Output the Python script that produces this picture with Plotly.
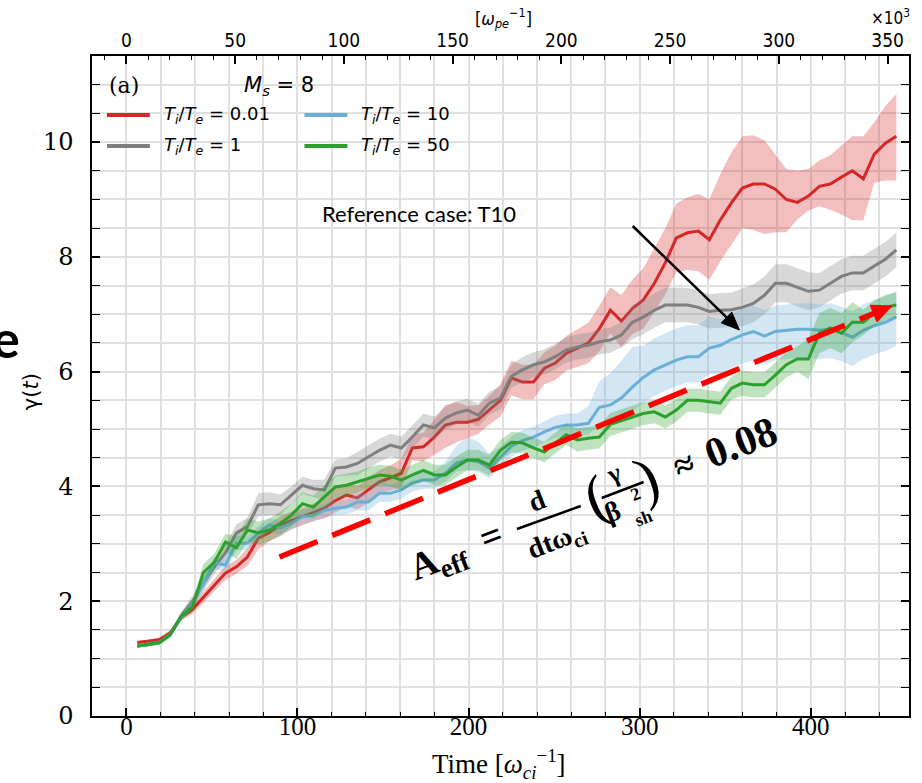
import plotly.graph_objects as go

# ---------------- data ----------------
t_ci = [6.4, 12.9, 19.3, 25.7, 32.1, 38.6, 45.0, 51.4, 57.9, 64.3,
        70.7, 77.1, 83.6, 90.0, 96.4, 102.9, 109.3, 115.7, 122.1, 128.6,
        135.0, 141.4, 147.9, 154.3, 160.7, 167.1, 173.6, 180.0, 186.4, 192.9,
        199.3, 205.7, 212.1, 218.6, 225.0, 231.4, 237.9, 244.3, 250.7, 257.1,
        263.6, 270.0, 276.4, 282.9, 289.3, 295.7, 302.1, 308.6, 315.0, 321.4,
        327.9, 334.3, 340.7, 347.1, 353.6, 360.0, 366.4, 372.9, 379.3, 385.7,
        392.1, 398.6, 405.0, 411.4, 417.9, 424.3, 430.7, 437.1, 443.6, 450.0]

red_mean = [1.28, 1.30, 1.33, 1.45, 1.72, 1.86, 2.07, 2.28, 2.49, 2.60,
            2.77, 3.10, 3.20, 3.33, 3.41, 3.47, 3.55, 3.62, 3.75, 3.85,
            3.80, 3.94, 4.08, 4.15, 4.23, 4.67, 4.69, 4.86, 5.07, 5.12,
            5.12, 5.17, 5.33, 5.50, 5.89, 5.82, 5.82, 6.06, 6.15, 6.32,
            6.41, 6.50, 6.75, 7.07, 6.88, 7.10, 7.25, 7.54, 7.90, 8.33,
            8.42, 8.45, 8.30, 8.64, 8.94, 9.20, 9.27, 9.27, 9.18, 9.00,
            8.95, 9.06, 9.23, 9.27, 9.39, 9.50, 9.36, 9.79, 9.98, 10.10]
red_dn = [0.03, 0.03, 0.04, 0.05, 0.06, 0.08, 0.10, 0.10, 0.12, 0.12,
          0.15, 0.20, 0.15, 0.20, 0.15, 0.15, 0.15, 0.18, 0.20, 0.20,
          0.20, 0.22, 0.20, 0.22, 0.25, 0.22, 0.25, 0.30, 0.40, 0.35,
          0.28, 0.25, 0.25, 0.28, 0.30, 0.30, 0.30, 0.28, 0.30, 0.30,
          0.33, 0.35, 0.40, 0.40, 0.45, 0.45, 0.50, 0.50, 0.55, 0.60,
          0.65, 0.70, 0.70, 0.72, 0.72, 0.70, 0.80, 0.87, 0.75, 0.57,
          0.30, 0.25, 0.35, 0.45, 0.65, 0.86, 0.72, 0.50, 0.65, 0.77]
red_up = [0.03, 0.03, 0.04, 0.05, 0.06, 0.08, 0.10, 0.10, 0.12, 0.12,
          0.15, 0.15, 0.15, 0.15, 0.15, 0.15, 0.15, 0.18, 0.20, 0.20,
          0.20, 0.22, 0.20, 0.22, 0.25, 0.22, 0.25, 0.30, 0.35, 0.35,
          0.28, 0.25, 0.25, 0.28, 0.30, 0.30, 0.30, 0.28, 0.30, 0.30,
          0.33, 0.35, 0.40, 0.40, 0.45, 0.50, 0.55, 0.60, 0.60, 0.60,
          0.62, 0.65, 0.70, 0.80, 0.88, 0.90, 0.85, 0.76, 0.60, 0.53,
          0.55, 0.47, 0.45, 0.50, 0.55, 0.60, 0.74, 0.55, 0.65, 0.74]

gray_mean = [1.22, 1.24, 1.28, 1.42, 1.75, 2.00, 2.30, 2.60, 2.84, 3.19,
             3.30, 3.68, 3.70, 3.68, 3.85, 4.02, 3.96, 3.94, 4.32, 4.34,
             4.40, 4.51, 4.63, 4.72, 4.67, 4.86, 5.07, 5.02, 5.19, 5.28,
             5.33, 5.24, 5.45, 5.54, 5.92, 6.03, 6.12, 6.17, 6.26, 6.38,
             6.43, 6.46, 6.52, 6.55, 6.64, 6.86, 6.95, 7.07, 7.16, 7.16,
             7.16, 7.12, 7.05, 7.07, 7.08, 7.12, 7.19, 7.33, 7.54, 7.54,
             7.47, 7.40, 7.42, 7.54, 7.66, 7.72, 7.72, 7.84, 7.96, 8.12]
gray_err = [0.03, 0.03, 0.04, 0.05, 0.06, 0.10, 0.12, 0.12, 0.15, 0.15,
            0.15, 0.20, 0.20, 0.18, 0.15, 0.15, 0.15, 0.18, 0.15, 0.15,
            0.20, 0.20, 0.20, 0.20, 0.20, 0.20, 0.20, 0.20, 0.20, 0.20,
            0.20, 0.20, 0.20, 0.20, 0.20, 0.22, 0.22, 0.22, 0.22, 0.22,
            0.22, 0.22, 0.22, 0.22, 0.22, 0.30, 0.30, 0.30, 0.30, 0.30,
            0.30, 0.30, 0.30, 0.30, 0.30, 0.33, 0.33, 0.33, 0.33, 0.33,
            0.33, 0.33, 0.30, 0.30, 0.30, 0.30, 0.30, 0.30, 0.30, 0.30]

blue_mean = [1.22, 1.25, 1.28, 1.42, 1.72, 1.95, 2.30, 2.67, 2.63, 3.01,
             3.01, 3.19, 3.33, 3.28, 3.36, 3.47, 3.50, 3.58, 3.62, 3.64,
             3.73, 3.73, 3.88, 3.88, 3.94, 4.06, 4.11, 4.11, 4.23, 4.41,
             4.46, 4.43, 4.32, 4.51, 4.70, 4.80, 4.86, 4.95, 5.03, 5.07,
             5.07, 5.10, 5.38, 5.42, 5.54, 5.73, 5.90, 6.03, 6.12, 6.20,
             6.26, 6.26, 6.41, 6.46, 6.56, 6.64, 6.70, 6.62, 6.70, 6.72,
             6.74, 6.74, 6.72, 6.74, 6.68, 6.60, 6.72, 6.80, 6.86, 6.95]
blue_dn = [0.03, 0.03, 0.04, 0.05, 0.06, 0.08, 0.10, 0.10, 0.12, 0.12,
           0.12, 0.12, 0.12, 0.12, 0.12, 0.12, 0.12, 0.12, 0.12, 0.12,
           0.15, 0.15, 0.15, 0.15, 0.15, 0.15, 0.15, 0.15, 0.15, 0.15,
           0.18, 0.18, 0.18, 0.18, 0.18, 0.18, 0.18, 0.18, 0.18, 0.18,
           0.18, 0.20, 0.30, 0.35, 0.40, 0.42, 0.45, 0.45, 0.45, 0.45,
           0.45, 0.45, 0.45, 0.50, 0.50, 0.50, 0.50, 0.50, 0.50, 0.50,
           0.50, 0.50, 0.50, 0.50, 0.50, 0.50, 0.50, 0.50, 0.50, 0.50]
blue_up = [0.03, 0.03, 0.04, 0.05, 0.06, 0.08, 0.10, 0.10, 0.12, 0.12,
           0.12, 0.12, 0.12, 0.12, 0.12, 0.12, 0.12, 0.12, 0.12, 0.12,
           0.15, 0.15, 0.25, 0.15, 0.15, 0.15, 0.15, 0.15, 0.20, 0.30,
           0.40, 0.35, 0.25, 0.18, 0.18, 0.18, 0.18, 0.18, 0.20, 0.20,
           0.20, 0.30, 0.45, 0.55, 0.65, 0.70, 0.55, 0.55, 0.55, 0.55,
           0.55, 0.55, 0.55, 0.45, 0.45, 0.45, 0.45, 0.45, 0.45, 0.45,
           0.45, 0.45, 0.45, 0.45, 0.45, 0.45, 0.45, 0.45, 0.45, 0.45]

green_mean = [1.22, 1.25, 1.28, 1.42, 1.74, 1.90, 2.50, 2.68, 3.03, 2.93,
              3.24, 3.19, 3.24, 3.36, 3.50, 3.70, 3.64, 3.82, 3.99, 4.02,
              4.08, 4.15, 4.20, 4.18, 4.11, 4.20, 4.28, 4.20, 4.20, 4.34,
              4.46, 4.46, 4.37, 4.63, 4.77, 4.76, 4.67, 4.60, 4.76, 4.90,
              4.81, 4.84, 4.86, 5.08, 5.14, 5.20, 5.27, 5.30, 5.21, 5.33,
              5.50, 5.50, 5.47, 5.45, 5.71, 5.80, 5.77, 5.77, 5.94, 6.12,
              6.22, 6.22, 6.67, 6.76, 6.67, 6.86, 6.86, 7.02, 7.12, 7.16]
green_err = [0.03, 0.03, 0.04, 0.05, 0.06, 0.10, 0.15, 0.15, 0.15, 0.20,
             0.20, 0.20, 0.20, 0.20, 0.20, 0.20, 0.20, 0.20, 0.20, 0.20,
             0.18, 0.18, 0.18, 0.18, 0.18, 0.18, 0.18, 0.18, 0.18, 0.18,
             0.18, 0.18, 0.18, 0.18, 0.18, 0.18, 0.18, 0.18, 0.18, 0.18,
             0.20, 0.20, 0.20, 0.20, 0.20, 0.20, 0.20, 0.20, 0.20, 0.20,
             0.20, 0.20, 0.20, 0.20, 0.20, 0.22, 0.22, 0.22, 0.22, 0.22,
             0.22, 0.35, 0.35, 0.35, 0.35, 0.35, 0.22, 0.22, 0.22, 0.22]

legend_labels = ["<i>T</i><sub><i>i</i></sub>/<i>T</i><sub><i>e</i></sub> = 0.01",
                 "<i>T</i><sub><i>i</i></sub>/<i>T</i><sub><i>e</i></sub> = 1",
                 "<i>T</i><sub><i>i</i></sub>/<i>T</i><sub><i>e</i></sub> = 10",
                 "<i>T</i><sub><i>i</i></sub>/<i>T</i><sub><i>e</i></sub> = 50"]
line_colors = ["#d62728", "#7f7f7f", "#6baed6", "#2ca02c"]
fill_colors = ["rgba(214,39,40,0.3)", "rgba(127,127,127,0.3)",
               "rgba(107,174,214,0.3)", "rgba(44,160,44,0.3)"]

bottom_ticks = [0, 100, 200, 300, 400]
top_ticks = [0, 50, 100, 150, 200, 250, 300, 350]
y_ticks = [0, 2, 4, 6, 8, 10]
wpe_per_wci = 0.7867  # top axis (x10^3 / omega_pe) per bottom unit

# ---------------- geometry ----------------
W, H = 922, 783
L, R, T, B = 92, 11, 56, 67
PW, PH = W - L - R, H - T - B
X0, X1 = -20.1, 457.4
Y0, Y1 = 0.0, 11.5
GRID = "#e0e0e0"


def xp(px):
    return (px - L) / PW


def yp(py):
    return (H - B - py) / PH


fig = go.Figure()

series = [
    (red_mean, red_dn, red_up, 0),
    (gray_mean, gray_err, gray_err, 1),
    (blue_mean, blue_dn, blue_up, 2),
    (green_mean, green_err, green_err, 3),
]
for mean, dn, up, i in series:
    lo = [m - d for m, d in zip(mean, dn)]
    hi = [m + u for m, u in zip(mean, up)]
    fig.add_trace(go.Scatter(x=t_ci + t_ci[::-1], y=hi + lo[::-1], fill="toself",
                             fillcolor=fill_colors[i], line=dict(width=0),
                             mode="lines", hoverinfo="skip", showlegend=False))
    fig.add_trace(go.Scatter(x=t_ci, y=mean, mode="lines",
                             line=dict(color=line_colors[i], width=3),
                             name=legend_labels[i], showlegend=False))

# dummy trace to show the top axis
fig.add_trace(go.Scatter(x=[X0 * wpe_per_wci, X1 * wpe_per_wci], y=[None, None],
                         xaxis="x2", mode="lines", showlegend=False, hoverinfo="skip"))

axis_common = dict(ticks="inside", tickcolor="black", tickwidth=1.5, ticklen=8,
                   showline=True, linecolor="black", linewidth=1.5, zeroline=False)

fig.update_layout(
    width=W, height=H, margin=dict(l=L, r=R, t=T, b=B),
    plot_bgcolor="white", paper_bgcolor="white", showlegend=False,
    xaxis=dict(range=[X0, X1], tickvals=bottom_ticks, mirror=True,
               showgrid=True, gridcolor=GRID, gridwidth=1.5,
               minor=dict(dtick=20, tick0=0, ticks="inside", ticklen=4, tickwidth=1,
                          tickcolor="black", showgrid=True, gridcolor=GRID, gridwidth=1.5),
               tickfont=dict(family="Liberation Serif", size=25, color="black"),
               ticklabelstandoff=-13, **axis_common),
    xaxis2=dict(range=[X0 * wpe_per_wci, X1 * wpe_per_wci], overlaying="x", side="top",
                tickvals=top_ticks, showgrid=False,
                minor=dict(dtick=10, tick0=0, ticks="inside", ticklen=4, tickwidth=1,
                           tickcolor="black", showgrid=False),
                tickfont=dict(family="DejaVu Sans Condensed, DejaVu Sans", size=19, color="black"),
                ticklabelstandoff=0, **axis_common),
    yaxis=dict(range=[Y0, Y1], tickvals=y_ticks, mirror="allticks",
               showgrid=True, gridcolor=GRID, gridwidth=1.5,
               minor=dict(dtick=0.5, tick0=0, ticks="inside", ticklen=4, tickwidth=1,
                          tickcolor="black", showgrid=True, gridcolor=GRID, gridwidth=1.5),
               tickfont=dict(family="DejaVu Serif", size=24, color="black"),
               ticklabelstandoff=12, **axis_common),
)

shapes = []
annots = []


def label(text, px, py, family, size, angle=0, xanchor="center"):
    annots.append(dict(text=text, xref="paper", yref="paper", x=xp(px), y=yp(py),
                       xanchor=xanchor, yanchor="middle", textangle=angle, showarrow=False,
                       font=dict(family=family, size=size, color="black")))


# custom legend
leg_rows = [(0, 107, 115), (1, 107, 146), (2, 305, 115), (3, 305, 146)]
for i, x0p, yrow in leg_rows:
    shapes.append(dict(type="line", xref="paper", yref="paper",
                       x0=xp(x0p), x1=xp(x0p + 43), y0=yp(yrow), y1=yp(yrow),
                       line=dict(color=line_colors[i], width=4)))
    label(legend_labels[i], x0p + 55, yrow, "DejaVu Sans", 18, xanchor="left")

label("(a)", 124, 85, "DejaVu Serif", 22)
label("<i>M</i><sub><i>s</i></sub> = 8", 279, 86, "DejaVu Sans", 21)

# axis titles and extra texts
label("Time [<i>ω</i><sub><i>ci</i></sub><sup>−1</sup>]", 500, 764, "Liberation Serif", 27)
label("γ(<i>t</i>)", 31, 392, "DejaVu Sans", 21, angle=-90)
label("<b>e</b>", 6, 338, "Lato, Liberation Sans", 52)
label("[<i>ω</i><sub><i>pe</i></sub><sup>−1</sup>]", 505, 18, "DejaVu Sans Condensed, DejaVu Sans", 18)
label("×10<sup>3</sup>", 892, 17, "DejaVu Sans Condensed, DejaVu Sans", 17)
label("Reference case: T10", 420, 213, "Lato, Liberation Sans", 22)


def head(tip, tail, length, half):
    ux, uy = tip[0] - tail[0], tip[1] - tail[1]
    n = (ux * ux + uy * uy) ** 0.5
    ux, uy = ux / n, uy / n
    bx, by = tip[0] - length * ux, tip[1] - length * uy
    p1 = (bx - half * uy, by + half * ux)
    p2 = (bx + half * uy, by - half * ux)
    path = "M {} {} L {} {} L {} {} Z".format(xp(tip[0]), yp(tip[1]), xp(p1[0]), yp(p1[1]),
                                             xp(p2[0]), yp(p2[1]))
    return path, (bx, by)


blk_tail, blk_tip = (634, 226), (741, 330)
p, base = head(blk_tip, blk_tail, 18, 7.5)
shapes.append(dict(type="line", xref="paper", yref="paper", x0=xp(blk_tail[0]), y0=yp(blk_tail[1]),
                   x1=xp(base[0]), y1=yp(base[1]), line=dict(color="black", width=2.5)))
shapes.append(dict(type="path", xref="paper", yref="paper", path=p, fillcolor="black",
                   line=dict(color="black", width=1)))

red_tail, red_tip = (280, 557), (894, 306)
p, base = head(red_tip, red_tail, 20, 9)
shapes.append(dict(type="line", xref="paper", yref="paper", x0=xp(red_tail[0]), y0=yp(red_tail[1]),
                   x1=xp(base[0]), y1=yp(base[1]),
                   line=dict(color="#ff0000", width=5.5, dash="41px,16px")))
shapes.append(dict(type="path", xref="paper", yref="paper", path=p, fillcolor="#ff0000",
                   line=dict(color="#ff0000", width=1)))

# rotated formula
ANG = -21
FS = "Liberation Serif"
pieces = [
    ("<b>A<sub>eff</sub></b>", 440, 561, 38),
    ("<b>=</b>", 492, 536, 38),
    ("<b>d</b>", 538, 500, 28),
    ("<b>dtω<sub>ci</sub></b>", 558, 541, 28),
    ("(", 597, 497, 60),
    ("<b>γ</b>", 615, 473, 26),
    ("<b>β</b>", 614, 511, 28),
    ("<b>2</b>", 637, 494, 18),
    ("<b>sh</b>", 645, 518, 18),
    (")", 648, 478, 60),
    ("<b>≈</b>", 685, 465, 36),
    ("<b>0.08</b>", 743, 442, 42),
]
for txt, cx, cy, fs in pieces:
    label(txt, cx, cy, FS, fs, angle=ANG)
for (ax0, ay0, ax1, ay1) in [(518, 529, 582, 506), (603, 498, 645, 482)]:
    shapes.append(dict(type="line", xref="paper", yref="paper", x0=xp(ax0), y0=yp(ay0),
                       x1=xp(ax1), y1=yp(ay1), line=dict(color="black", width=2.5)))

fig.update_layout(shapes=shapes, annotations=annots)
fig.write_html("out.html", config={"displayModeBar": False},
               post_script="document.body.style.margin='0px';")
